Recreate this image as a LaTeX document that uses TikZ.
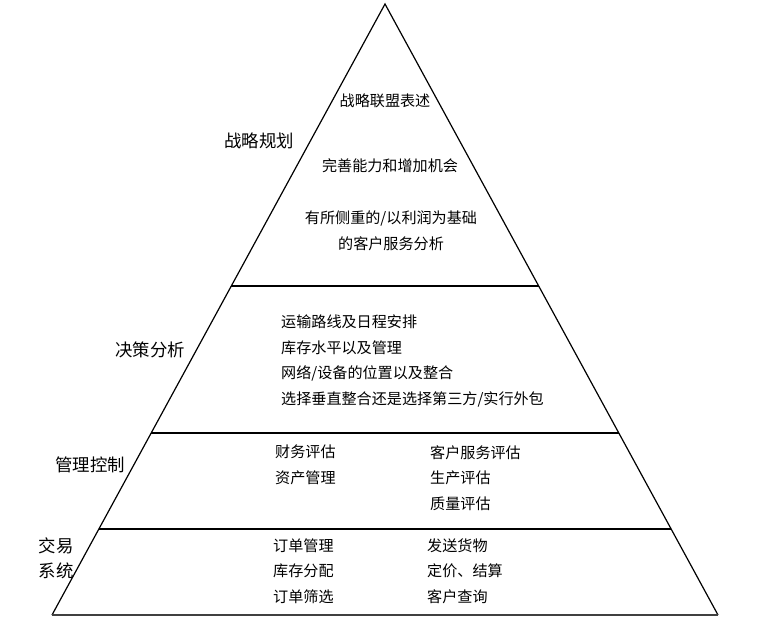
\documentclass[tikz,border=0pt]{standalone}
\usepackage{fontspec}
\setmainfont{Noto Sans CJK SC}
\usetikzlibrary{calc}
\begin{document}
\begin{tikzpicture}[x=1pt,y=-1pt,
  body/.style={font=\fontsize{15.1}{25.5}\selectfont, inner sep=0pt},
  lbl/.style={font=\fontsize{17.4}{25}\selectfont, inner sep=0pt},
  lst/.style={body, anchor=west, align=left},
  edge/.style={line width=1.2pt, black}]
\useasboundingbox (0,0) rectangle (758,631);
\coordinate (A) at (385,4);
\coordinate (L) at (52,615);
\coordinate (R) at (718,615);
\draw[edge, line join=miter] (L) -- (A) -- (R);
\draw[line width=1.5pt, black!75] (L) -- (R);
\coordinate (l1) at ($(A)!{282/611}!(L)$);
\coordinate (r1) at ($(A)!{282/611}!(R)$);
\coordinate (l2) at ($(A)!{429/611}!(L)$);
\coordinate (r2) at ($(A)!{429/611}!(R)$);
\coordinate (l3) at ($(A)!{525/611}!(L)$);
\coordinate (r3) at ($(A)!{525/611}!(R)$);
\draw[edge] (l1) -- (r1);
\draw[edge] (l2) -- (r2);
\draw[edge] (l3) -- (r3);
% top section
\node[body] (t1) at (385,101) {战略联盟表述};
\node[body] (t2) at (390,166) {完善能力和增加机会};
\node[body, align=center] (t3) at (391,231) {有所侧重的/以利润为基础\\的客户服务分析};
\node[lbl] (s1) at (259,141) {战略规划};
% decision
\node[lbl] (s2) at (150,350) {决策分析};
\node[lst] (d1) at (281,361) {运输路线及日程安排\\库存水平以及管理\\网络/设备的位置以及整合\\选择垂直整合还是选择第三方/实行外包};
% control
\node[lbl] (s3) at (90,465) {管理控制};
\node[lst, anchor=north west] (c1) at (275,445) {财务评估\\资产管理};
\node[lst, anchor=north west] (c2) at (430,445) {客户服务评估\\生产评估\\质量评估};
% transaction
\node[lbl, align=left] (s4) at (56,558) {交易\\系统};
\node[lst] (e1) at (273,571) {订单管理\\库存分配\\订单筛选};
\node[lst] (e2) at (427,571) {发送货物\\定价、结算\\客户查询};
\end{tikzpicture}
\end{document}
